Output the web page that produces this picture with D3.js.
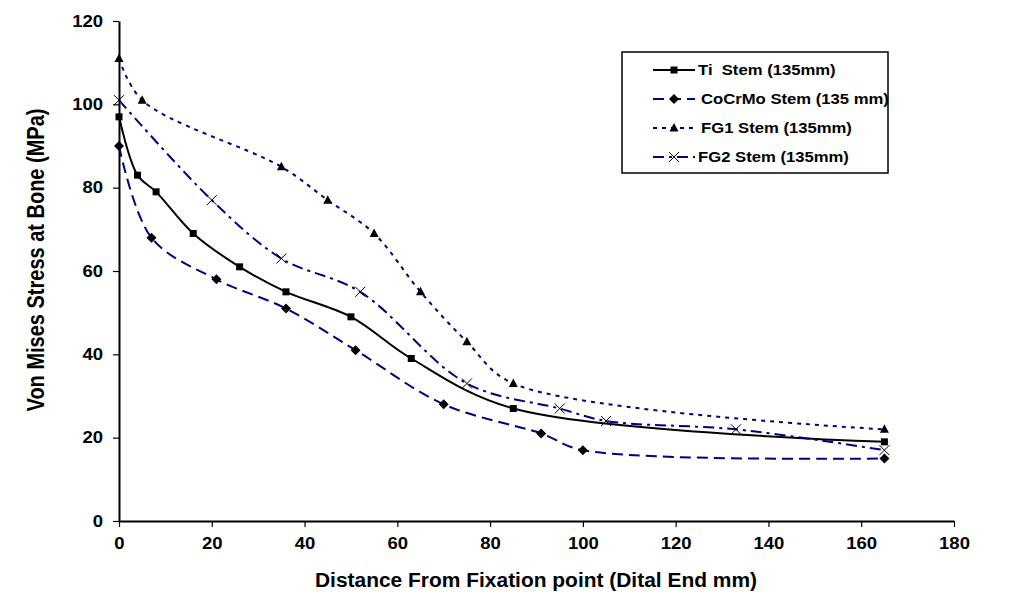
<!DOCTYPE html>
<html>
<head>
<meta charset="utf-8">
<script src="https://cdn.jsdelivr.net/npm/d3@7"></script>
<style>
  html, body { margin: 0; padding: 0; background: #fff; }
  svg { display: block; }
  text { font-family: "Liberation Sans", Arial, sans-serif; font-weight: bold; fill: #000; }
</style>
</head>
<body>
<svg id="chart" width="1020" height="606"></svg>
<script>
// ---- Data ----
const xTicks = [0, 20, 40, 60, 80, 100, 120, 140, 160, 180];
const yTicks = [0, 20, 40, 60, 80, 100, 120];

const tiX = [0, 4, 8, 16, 26, 36, 50, 63, 85, 165];
const tiY = [97, 83, 79, 69, 61, 55, 49, 39, 27, 19];

const cocrX = [0, 7, 21, 36, 51, 70, 91, 100, 165];
const cocrY = [90, 68, 58, 51, 41, 28, 21, 17, 15];

const fg1X = [0, 5, 35, 45, 55, 65, 75, 85, 165];
const fg1Y = [111, 101, 85, 77, 69, 55, 43, 33, 22];

const fg2X = [0, 20, 35, 52, 75, 95, 105, 133, 165];
const fg2Y = [101, 77, 63, 55, 33, 27, 24, 22, 17];

const seriesNames = ["Ti  Stem (135mm)", "CoCrMo Stem (135 mm)", "FG1 Stem (135mm)", "FG2 Stem (135mm)"];

// ---- Setup ----
const svg = d3.select("#chart");
const x = d3.scaleLinear().domain([0, 180]).range([119, 954]);
const y = d3.scaleLinear().domain([0, 120]).range([521, 21]);

const STRETCH = 1.19; // the reference text is horizontally widened
function stretch(sel, factor) {
  sel.each(function () {
    const w = this.getComputedTextLength();
    d3.select(this).attr("textLength", w * factor).attr("lengthAdjust", "spacingAndGlyphs");
  });
}

const navy = "#000080";
const series = [
  { name: seriesNames[0], xs: tiX, ys: tiY, color: "#000", dash: null, marker: "square", lx: 698 },
  { name: seriesNames[1], xs: cocrX, ys: cocrY, color: navy, dash: "11,6", marker: "diamond", lx: 701 },
  { name: seriesNames[2], xs: fg1X, ys: fg1Y, color: navy, dash: "4,5", marker: "triangle", lx: 701 },
  { name: seriesNames[3], xs: fg2X, ys: fg2Y, color: navy, dash: "11,5,3,5", marker: "x", lx: 698 }
];

// ---- Axes ----
const xAxis = d3.axisBottom(x).tickValues(xTicks).tickSize(6).tickSizeOuter(0).tickPadding(10);
const yAxis = d3.axisLeft(y).tickValues(yTicks).tickSize(6).tickSizeOuter(0).tickPadding(10);

const gx = svg.append("g").attr("transform", `translate(0,${y(0)})`).call(xAxis);
const gy = svg.append("g").attr("transform", `translate(${x(0)},0)`).call(yAxis);
[gx, gy].forEach(g => {
  g.select(".domain").attr("stroke", "#000").attr("stroke-width", 2);
  g.selectAll(".tick line").attr("stroke", "#000").attr("stroke-width", 1.2);
  g.selectAll(".tick text")
    .style("font-size", "16.5px")
    .style("font-family", "'Liberation Sans', Arial, sans-serif")
    .style("font-weight", "bold")
    .attr("fill", "#000");
  stretch(g.selectAll(".tick text"), 1.12);
});

// ---- Axis titles ----
const xt = svg.append("text")
  .attr("x", 536).attr("y", 587)
  .attr("text-anchor", "middle")
  .style("font-size", "19.5px")
  .text("Distance From Fixation point (Dital End mm)");
xt.attr("textLength", 442).attr("lengthAdjust", "spacingAndGlyphs");

svg.append("text")
  .attr("transform", "translate(44,260) rotate(-90) scale(1,1.2)")
  .attr("text-anchor", "middle")
  .style("font-size", "20px")
  .text("Von Mises Stress at Bone (MPa)");

// ---- Markers ----
function drawMarker(g, type, cx, cy) {
  if (type === "square") {
    g.append("rect").attr("x", cx - 3.5).attr("y", cy - 3.5).attr("width", 7).attr("height", 7).attr("fill", "#000");
  } else if (type === "diamond") {
    g.append("path").attr("d", `M${cx},${cy - 5}L${cx + 5},${cy}L${cx},${cy + 5}L${cx - 5},${cy}Z`).attr("fill", "#000");
  } else if (type === "triangle") {
    g.append("path").attr("d", `M${cx},${cy - 5}L${cx + 4.5},${cy + 3.5}L${cx - 4.5},${cy + 3.5}Z`).attr("fill", "#000");
  } else if (type === "x") {
    g.append("path").attr("d", `M${cx - 5},${cy - 5}L${cx + 5},${cy + 5}M${cx + 5},${cy - 5}L${cx - 5},${cy + 5}`)
      .attr("stroke", "#000").attr("stroke-width", 1).attr("fill", "none");
  }
}

// ---- Lines ----
const line = d3.line().x(d => x(d[0])).y(d => y(d[1])).curve(d3.curveCatmullRom.alpha(0.5));

series.forEach(s => {
  const pts = s.xs.map((v, i) => [v, s.ys[i]]);
  svg.append("path")
    .datum(pts)
    .attr("d", line)
    .attr("fill", "none")
    .attr("stroke", s.color)
    .attr("stroke-width", 2)
    .attr("stroke-dasharray", s.dash);
  const mg = svg.append("g");
  pts.forEach(p => drawMarker(mg, s.marker, x(p[0]), y(p[1])));
});

// ---- Legend ----
const leg = svg.append("g");
leg.append("rect").attr("x", 622).attr("y", 52).attr("width", 266).attr("height", 121)
  .attr("fill", "#fff").attr("stroke", "#000").attr("stroke-width", 1.5);

series.forEach((s, i) => {
  const ly = 70 + i * 29;
  leg.append("line").attr("x1", 653).attr("x2", 695).attr("y1", ly).attr("y2", ly)
    .attr("stroke", s.color).attr("stroke-width", 2).attr("stroke-dasharray", s.dash);
  drawMarker(leg, s.marker, 674, ly);
  const t = leg.append("text").attr("x", s.lx).attr("y", ly + 5)
    .style("font-size", "14px").style("white-space", "pre").attr("xml:space", "preserve")
    .text(s.name);
  stretch(t, STRETCH);
});
</script>
</body>
</html>
